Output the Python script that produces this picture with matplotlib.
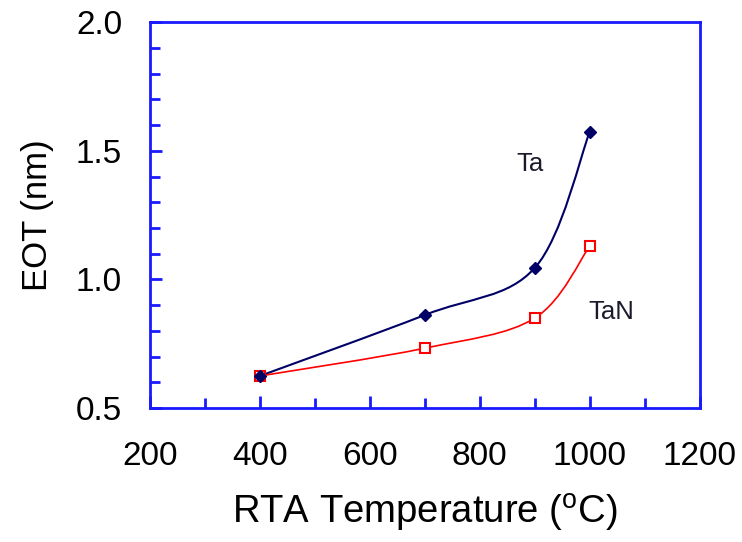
import numpy as np
import matplotlib
matplotlib.use("Agg")
import matplotlib.pyplot as plt
from matplotlib.path import Path
from matplotlib.patches import PathPatch

plt.rcParams['font.family'] = ['Liberation Sans', 'DejaVu Sans']
plt.rcParams['mathtext.fontset'] = 'custom'
plt.rcParams['mathtext.rm'] = 'Liberation Sans'

# data
temps = [400, 700, 900, 1000]
eot_ta = [0.625, 0.862, 1.045, 1.574]
eot_tan = [0.625, 0.733, 0.850, 1.130]

xticks = [200, 400, 600, 800, 1000, 1200]
yticks = [0.5, 1.0, 1.5, 2.0]

frame_blue = '#1a1aff'
navy = '#000066'
red = '#ff0000'


def smooth_path(xs, ys):
    # Excel-style smoothed line: Catmull-Rom through the points as cubic Beziers
    pts = np.column_stack([xs, ys]).astype(float)
    ext = np.vstack([pts[0], pts, pts[-1]])
    verts = [pts[0]]
    codes = [Path.MOVETO]
    for i in range(1, len(ext) - 2):
        p0, p1, p2, p3 = ext[i - 1], ext[i], ext[i + 1], ext[i + 2]
        verts += [p1 + (p2 - p0) / 6, p2 - (p3 - p1) / 6, p2]
        codes += [Path.CURVE4] * 3
    return Path(verts, codes)


fig = plt.figure(figsize=(7.42, 5.42), dpi=100)
ax = fig.add_axes([0.202, 0.247, 0.741, 0.712])

ax.add_patch(PathPatch(smooth_path(temps, eot_ta), fc='none', ec=navy, lw=1.5, zorder=2))
ax.add_patch(PathPatch(smooth_path(temps, eot_tan), fc='none', ec=red, lw=1.2, zorder=2))
ax.plot(temps, eot_ta, ls='none', marker='D', ms=6, color=navy, zorder=4)
ax.plot(temps, eot_tan, ls='none', marker='s', ms=7, mfc='white', mec=red, mew=1.5, zorder=3)

ax.text(892, 1.45, 'Ta', fontsize=18.5, color='#1a1a2a', ha='center', va='center')
ax.text(1040, 0.875, 'TaN', fontsize=18.5, color='#1a1a2a', ha='center', va='center')

ax.set_xlim(200, 1200)
ax.set_ylim(0.5, 2.0)
ax.set_xticks(xticks)
ax.set_yticks(yticks)
ax.set_xticks(np.arange(300, 1200, 200), minor=True)
ax.set_yticks(np.arange(0.6, 2.0, 0.1), minor=True)
ax.set_yticklabels(['%.1f' % v for v in yticks])

for s in ax.spines.values():
    s.set_color(frame_blue)
    s.set_linewidth(2)
ax.tick_params(which='both', direction='in', color=frame_blue, width=2,
               labelsize=24, top=False, right=False)
ax.tick_params(which='major', length=8.5, pad=20)
ax.tick_params(which='minor', length=7)
ax.tick_params(axis='x', which='major', pad=24)

ax.set_xlabel(r'RTA Temperature ($^{\rm o}$C)', fontsize=27.5, labelpad=14)
ax.set_ylabel('EOT (nm)', fontsize=25, labelpad=16)

fig.savefig('out.png', dpi=100)
